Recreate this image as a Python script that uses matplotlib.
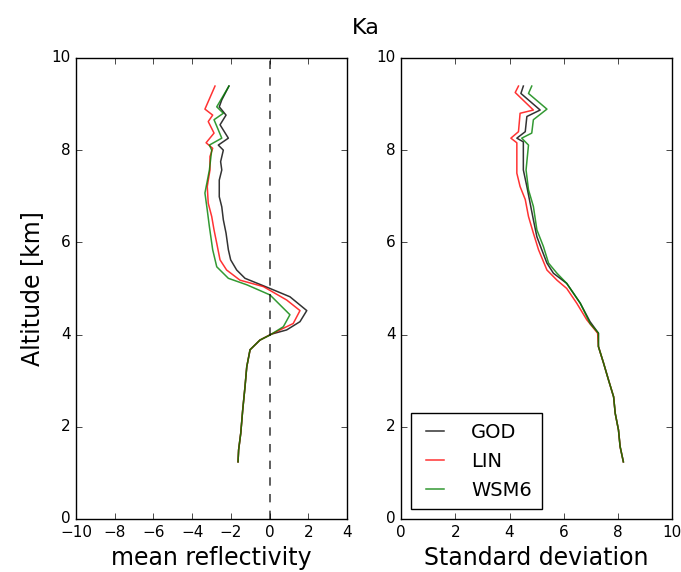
import matplotlib
matplotlib.use('Agg')
import matplotlib.pyplot as plt

plt.style.use('classic')
plt.rcParams['font.family'] = ['DejaVu Sans']

labels = ['GOD', 'LIN', 'WSM6']
colors = ['k', 'r', 'g']

# shared lower part of the profiles (below the melting layer)
tail_alt = [3.88, 3.67, 3.30, 2.87, 2.36, 1.86, 1.50, 1.24]
tail_mean = [-0.50, -1.01, -1.18, -1.27, -1.39, -1.49, -1.60, -1.63]
tail_std_alt = [3.74, 3.38, 3.02, 2.65, 2.29, 1.93, 1.57, 1.24]
tail_std = [7.28, 7.47, 7.65, 7.84, 7.90, 8.02, 8.08, 8.20]

# mean reflectivity profiles
god_mean_alt = [9.39, 9.09, 8.94, 8.76, 8.55, 8.26, 8.11, 8.00, 7.75, 7.57, 7.35,
                6.99, 6.77, 6.49, 6.20, 5.84, 5.62, 5.40, 5.22, 5.00, 4.82, 4.52,
                4.28, 4.10, 4.01] + tail_alt
god_mean = [-2.10, -2.47, -2.60, -2.25, -2.56, -2.13, -2.65, -2.39, -2.53, -2.47, -2.60,
            -2.60, -2.47, -2.39, -2.25, -2.13, -2.01, -1.70, -1.27, 0.02, 1.05, 1.92,
            1.57, 0.88, 0.10] + tail_mean

lin_mean_alt = [9.39, 8.89, 8.76, 8.62, 8.37, 8.16, 8.04, 7.86, 7.57, 7.21, 6.85,
                6.56, 6.27, 5.98, 5.62, 5.40, 5.18, 5.04, 4.75, 4.52, 4.24, 4.03] + tail_alt
lin_mean = [-2.82, -3.34, -2.94, -3.17, -2.87, -3.28, -2.94, -3.08, -3.08, -3.22, -3.17,
            -2.99, -2.87, -2.73, -2.56, -2.22, -1.53, -0.32, 0.88, 1.57, 1.22, 0.19] + tail_mean

wsm_mean_alt = [9.39, 8.94, 8.80, 8.66, 8.26, 8.11, 8.00, 7.57, 7.07, 6.70, 6.34,
                5.84, 5.47, 5.22, 5.08, 4.86, 4.43, 4.17, 3.99] + tail_alt
wsm_mean = [-2.10, -2.73, -2.39, -2.87, -2.47, -3.11, -2.99, -3.11, -3.34, -3.22, -3.11,
            -2.94, -2.73, -2.13, -1.18, 0.02, 1.05, 0.71, 0.02] + tail_mean

# standard deviation profiles
god_std_alt = [9.39, 9.23, 8.87, 8.73, 8.40, 8.26, 8.18, 7.57, 7.21, 6.85, 6.49,
               6.12, 5.84, 5.55, 5.33, 5.11, 4.68, 4.28, 4.03] + tail_std_alt
god_std = [4.51, 4.42, 5.13, 4.64, 4.58, 4.27, 4.51, 4.51, 4.64, 4.76, 4.88,
           5.01, 5.19, 5.38, 5.62, 6.11, 6.61, 6.97, 7.28] + tail_std

lin_std_alt = [9.39, 9.25, 8.87, 8.80, 8.40, 8.26, 8.16, 7.50, 7.21, 6.93, 6.56,
               6.20, 5.84, 5.40, 5.18, 5.00, 4.68, 4.32, 4.03] + tail_std_alt
lin_std = [4.33, 4.21, 4.88, 4.39, 4.33, 4.05, 4.27, 4.27, 4.39, 4.58, 4.70,
           4.88, 5.07, 5.38, 5.75, 6.11, 6.48, 6.85, 7.25] + tail_std

wsm_std_alt = [9.39, 9.23, 8.89, 8.66, 8.37, 8.26, 8.11, 7.57, 7.14, 6.78, 6.27,
               5.91, 5.55, 5.33, 5.11, 4.68, 4.24, 4.03] + tail_std_alt
wsm_std = [4.82, 4.70, 5.38, 4.88, 4.82, 4.45, 4.70, 4.61, 4.70, 4.88, 5.01,
           5.25, 5.44, 5.75, 6.11, 6.61, 6.97, 7.28] + tail_std

mean_profiles = [(god_mean, god_mean_alt), (lin_mean, lin_mean_alt), (wsm_mean, wsm_mean_alt)]
std_profiles = [(god_std, god_std_alt), (lin_std, lin_std_alt), (wsm_std, wsm_std_alt)]

fig = plt.figure(figsize=(6.81, 5.72), dpi=100, facecolor='white')
ax1 = fig.add_axes([0.1116, 0.0927, 0.398, 0.806])
ax2 = fig.add_axes([0.589, 0.0927, 0.398, 0.806])

for (x, y), c, lab in zip(mean_profiles, colors, labels):
    ax1.plot(x, y, color=c, lw=1.1, alpha=0.8, label=lab)
ax1.axvline(0, color='k', ls='--', lw=1.1, alpha=0.8)
ax1.set_xlim(-10, 4)
ax1.set_ylim(0, 10)
ax1.set_xlabel('mean reflectivity', fontsize=17)
ax1.set_ylabel('Altitude [km]', fontsize=17)

for (x, y), c, lab in zip(std_profiles, colors, labels):
    ax2.plot(x, y, color=c, lw=1.1, alpha=0.8, label=lab)
ax2.set_xlim(0, 10)
ax2.set_ylim(0, 10)
ax2.set_xlabel('Standard deviation', fontsize=17)
ax2.legend(loc='lower left', fontsize=14, handlelength=1.5, handletextpad=1.1,
           borderaxespad=0.5, borderpad=0.5, labelspacing=0.5)

for ax in (ax1, ax2):
    ax.tick_params(labelsize=11)

fig.text(0.537, 0.951, 'Ka', fontsize=16, ha='center', va='center')

fig.savefig('out.png', dpi=100, facecolor='white')
